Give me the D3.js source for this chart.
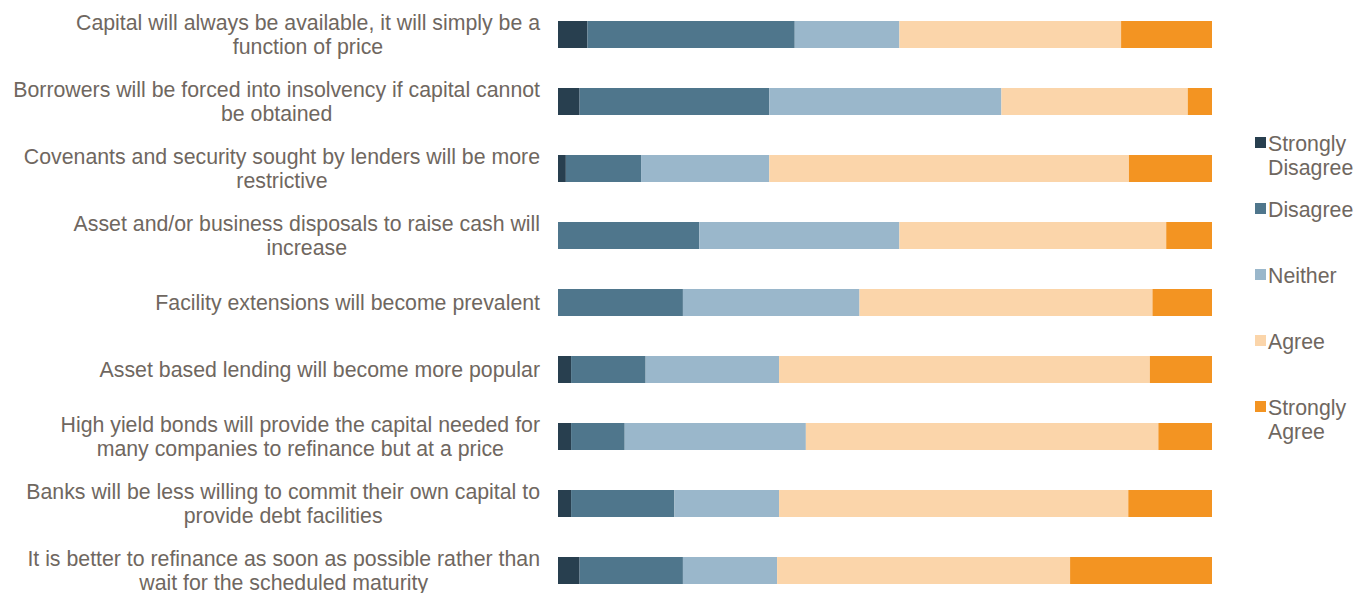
<!DOCTYPE html>
<html>
<head>
<meta charset="utf-8">
<script src="https://cdn.jsdelivr.net/npm/d3@7"></script>
<style>
  html, body { margin: 0; padding: 0; background: #ffffff; }
  svg { display: block; font-family: "Liberation Sans", Arial, sans-serif; }
</style>
</head>
<body>
<svg id="chart" width="1356" height="593"></svg>
<script>
// Survey statements (each label split into its wrapped lines)
const statements = [
  ["Capital will always be available, it will simply be a", "function of price"],
  ["Borrowers will be forced into insolvency if capital cannot", "be obtained"],
  ["Covenants and security sought by lenders will be more", "restrictive"],
  ["Asset and/or business disposals to raise cash will", "increase"],
  ["Facility extensions will become prevalent"],
  ["Asset based lending will become more popular"],
  ["High yield bonds will provide the capital needed for", "many companies to refinance but at a price"],
  ["Banks will be less willing to commit their own capital to", "provide debt facilities"],
  ["It is better to refinance as soon as possible rather than", "wait for the scheduled maturity"]
];

const responses = ["Strongly Disagree", "Disagree", "Neither", "Agree", "Strongly Agree"];

// Share of respondents (%) per statement, in statement order
const stronglyDisagree = [4.5, 3.3, 1.2, 0.0, 0.0, 2.0, 2.0, 2.0, 3.3];
const disagree         = [31.7, 29.0, 11.5, 21.6, 19.1, 11.4, 8.2, 15.8, 15.8];
const neither          = [16.0, 35.5, 19.6, 30.6, 27.0, 20.4, 27.7, 16.0, 14.4];
const agree            = [33.9, 28.5, 55.0, 40.8, 44.8, 56.7, 53.9, 53.4, 44.8];
const stronglyAgree    = [13.9, 3.7, 12.7, 7.0, 9.1, 9.5, 8.2, 12.8, 21.7];

const colors = ["#283f4f", "#4f768c", "#9ab7cb", "#fbd5aa", "#f39422"];
const textColor = "#6f6760";

const seriesValues = [stronglyDisagree, disagree, neither, agree, stronglyAgree];
const rows = statements.map((lines, i) => {
  const row = { key: i, lines };
  responses.forEach((r, j) => { row[r] = seriesValues[j][i]; });
  return row;
});

const stack = d3.stack().keys(responses).offset(d3.stackOffsetExpand);
const layers = stack(rows);

const svg = d3.select("#chart");

const x = d3.scaleLinear().domain([0, 1]).range([558, 1212]);
const y = d3.scaleBand()
  .domain(rows.map(d => d.key))
  .range([1, 604])
  .paddingInner(0.597)
  .paddingOuter(0.2985);

// Stacked bars
svg.append("g")
  .selectAll("g")
  .data(layers)
  .join("g")
  .attr("fill", (d, i) => colors[i])
  .selectAll("rect")
  .data(d => d)
  .join("rect")
  .attr("x", d => x(d[0]))
  .attr("width", d => Math.max(0, x(d[1]) - x(d[0])))
  .attr("y", (d) => y(d.data.key))
  .attr("height", y.bandwidth());

// Category labels: lines centred on each other, block right-aligned to the bars
const fontSize = 21.3;
const lineH = 24;
const labelRight = 540;
const labels = svg.append("g")
  .attr("fill", textColor)
  .attr("font-size", fontSize);

rows.forEach(row => {
  const g = labels.append("g");
  const cy = y(row.key) + y.bandwidth() / 2;
  const n = row.lines.length;
  const texts = row.lines.map((line, k) =>
    g.append("text")
      .attr("y", cy + (k - (n - 1) / 2) * lineH)
      .attr("dy", "0.35em")
      .attr("text-anchor", "middle")
      .text(line)
  );
  const widest = d3.max(texts, t => t.node().getComputedTextLength());
  texts.forEach(t => t.attr("x", labelRight - widest / 2));
});

// Legend
const legendLines = [["Strongly", "Disagree"], ["Disagree"], ["Neither"], ["Agree"], ["Strongly", "Agree"]];
const legend = svg.append("g").attr("font-size", fontSize).attr("fill", textColor);
legendLines.forEach((lines, i) => {
  const top = 144 + i * 66;
  legend.append("rect")
    .attr("x", 1255)
    .attr("y", top - 7)
    .attr("width", 11)
    .attr("height", 11)
    .attr("fill", colors[i]);
  lines.forEach((line, k) => {
    legend.append("text")
      .attr("x", 1268)
      .attr("y", top + k * 24)
      .attr("dy", "0.35em")
      .text(line);
  });
});
</script>
</body>
</html>
